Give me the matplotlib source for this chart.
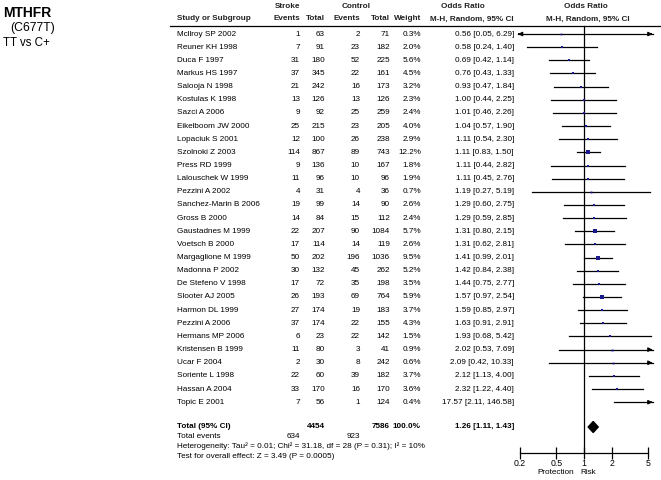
import numpy as np
import matplotlib
matplotlib.use("Agg")
import matplotlib.pyplot as plt
from matplotlib.patches import Polygon

plt.rcParams['font.family'] = ['Liberation Sans', 'DejaVu Sans']

studies = ["Mcllroy SP 2002", "Reuner KH 1998", "Duca F 1997", "Markus HS 1997", "Salooja N 1998",
           "Kostulas K 1998", "Sazci A 2006", "Eikelboom JW 2000", "Lopaciuk S 2001", "Szolnoki Z 2003",
           "Press RD 1999", "Lalouschek W 1999", "Pezzini A 2002", "Sanchez-Marin B 2006", "Gross B 2000",
           "Gaustadnes M 1999", "Voetsch B 2000", "Margaglione M 1999", "Madonna P 2002", "De Stefeno V 1998",
           "Slooter AJ 2005", "Harmon DL 1999", "Pezzini A 2006", "Hermans MP 2006", "Kristensen B 1999",
           "Ucar F 2004", "Soriente L 1998", "Hassan A 2004", "Topic E 2001"]
stroke_events = [1, 7, 31, 37, 21, 13, 9, 25, 12, 114, 9, 11, 4, 19, 14, 22, 17, 50, 30, 17, 26, 27, 37, 6, 11, 2, 22, 33, 7]
stroke_total = [63, 91, 180, 345, 242, 126, 92, 215, 100, 867, 136, 96, 31, 99, 84, 207, 114, 202, 132, 72, 193, 174, 174, 23, 80, 30, 60, 170, 56]
control_events = [2, 23, 52, 22, 16, 13, 25, 23, 26, 89, 10, 10, 4, 14, 15, 90, 14, 196, 45, 35, 69, 19, 22, 22, 3, 8, 39, 16, 1]
control_total = [71, 182, 225, 161, 173, 126, 259, 205, 238, 743, 167, 96, 36, 90, 112, 1084, 119, 1036, 262, 198, 764, 183, 155, 142, 41, 242, 182, 170, 124]
weights = [0.3, 2.0, 5.6, 4.5, 3.2, 2.3, 2.4, 4.0, 2.9, 12.2, 1.8, 1.9, 0.7, 2.6, 2.4, 5.7, 2.6, 9.5, 5.2, 3.5, 5.9, 3.7, 4.3, 1.5, 0.9, 0.6, 3.7, 3.6, 0.4]
odds = [0.56, 0.58, 0.69, 0.76, 0.93, 1.00, 1.01, 1.04, 1.11, 1.11, 1.11, 1.11, 1.19, 1.29, 1.29, 1.31, 1.31, 1.41, 1.42, 1.44, 1.57, 1.59, 1.63, 1.93, 2.02, 2.09, 2.12, 2.32, 17.57]
ci_low = [0.05, 0.24, 0.42, 0.43, 0.47, 0.44, 0.46, 0.57, 0.54, 0.83, 0.44, 0.45, 0.27, 0.60, 0.59, 0.80, 0.62, 0.99, 0.84, 0.75, 0.97, 0.85, 0.91, 0.68, 0.53, 0.42, 1.13, 1.22, 2.11]
ci_high = [6.29, 1.40, 1.14, 1.33, 1.84, 2.25, 2.26, 1.90, 2.30, 1.50, 2.82, 2.76, 5.19, 2.75, 2.85, 2.15, 2.81, 2.01, 2.38, 2.77, 2.54, 2.97, 2.91, 5.42, 7.69, 10.33, 4.00, 4.40, 146.58]
total_stroke = 4454
total_control = 7586
total_events_stroke = 634
total_events_control = 923
total_or, total_lo, total_hi = 1.26, 1.11, 1.43
axis_ticks = [0.2, 0.5, 1, 2, 5]
axis_labels = ["0.2", "0.5", "1", "2", "5"]

W, H = 661, 480
fig = plt.figure(figsize=(W / 100, H / 100), dpi=100)
ax = fig.add_axes([0, 0, 1, 1])
ax.set_xlim(0, W)
ax.set_ylim(H, 0)
ax.axis('off')

fs = 5.9
# column anchors (pixels)
x_study, x_se, x_st, x_ce, x_ct, x_w, x_ci = 177, 300, 325, 360, 390, 421, 514

# Title
ax.text(3, 13, "MTHFR", fontsize=10, fontweight='bold', va='center', ha='left')
ax.text(10, 28, "(C677T)", fontsize=8.8, va='center', ha='left')
ax.text(3, 43, "TT vs C+", fontsize=8.3, va='center', ha='left')

# Headers
hdr = dict(fontsize=fs, va='center', fontweight='bold', color='#222222')
ax.text(288, 6, "Stroke", ha='center', **hdr)
ax.text(356, 6, "Control", ha='center', **hdr)
ax.text(463, 6, "Odds Ratio", ha='center', **hdr)
ax.text(586, 6, "Odds Ratio", ha='center', **hdr)
ax.text(x_study, 19, "Study or Subgroup", ha='left', **hdr)
ax.text(x_se, 19, "Events", ha='right', **hdr)
ax.text(x_st, 19, "Total", ha='right', **hdr)
ax.text(x_ce, 19, "Events", ha='right', **hdr)
ax.text(x_ct, 19, "Total", ha='right', **hdr)
ax.text(x_w, 19, "Weight", ha='right', **hdr)
ax.text(x_ci, 19, "M-H, Random, 95% CI", ha='right', **hdr)
ax.text(588, 19, "M-H, Random, 95% CI", ha='center', **hdr)
ax.plot([170, 661], [25.5, 25.5], color='black', lw=0.9)

y0, dy = 34.0, 13.15
rows_y = [y0 + i * dy for i in range(len(studies))]
for i, y in enumerate(rows_y):
    kw = dict(fontsize=fs, va='center')
    ax.text(x_study, y, studies[i], ha='left', **kw)
    ax.text(x_se, y, str(stroke_events[i]), ha='right', **kw)
    ax.text(x_st, y, str(stroke_total[i]), ha='right', **kw)
    ax.text(x_ce, y, str(control_events[i]), ha='right', **kw)
    ax.text(x_ct, y, str(control_total[i]), ha='right', **kw)
    ax.text(x_w, y, f"{weights[i]:.1f}%", ha='right', **kw)
    ax.text(x_ci, y, f"{odds[i]:.2f} [{ci_low[i]:.2f}, {ci_high[i]:.2f}]", ha='right', **kw)

yt = 427
bkw = dict(va='center', fontsize=fs, fontweight='bold')
ax.text(x_study, yt, "Total (95% CI)", ha='left', **bkw)
ax.text(x_st, yt, str(total_stroke), ha='right', **bkw)
ax.text(x_ct, yt, str(total_control), ha='right', **bkw)
ax.text(x_w, yt, "100.0%", ha='right', **bkw)
ax.text(x_ci, yt, f"{total_or:.2f} [{total_lo:.2f}, {total_hi:.2f}]", ha='right', **bkw)
ax.text(x_study, 437, "Total events", ha='left', va='center', fontsize=fs)
ax.text(x_se, 437, str(total_events_stroke), ha='right', va='center', fontsize=fs)
ax.text(x_ce, 437, str(total_events_control), ha='right', va='center', fontsize=fs)
ax.text(x_study, 446.5, "Heterogeneity: Tau\u00b2 = 0.01; Chi\u00b2 = 31.18, df = 28 (P = 0.31); I\u00b2 = 10%",
        ha='left', va='center', fontsize=fs)
ax.text(x_study, 456, "Test for overall effect: Z = 3.49 (P = 0.0005)", ha='left', va='center', fontsize=fs)

# Forest axes: log scale, pixel mapping px = 584 + 91.6*log10(v)
ppd = 91.6
xmin, xmax = 0.19, 5.6
left_px = 584 + ppd * np.log10(xmin)
right_px = 584 + ppd * np.log10(xmax)
fa = fig.add_axes([left_px / W, 0, (right_px - left_px) / W, 1])
fa.set_xscale('log')
fa.set_xlim(xmin, xmax)
fa.set_ylim(H, 0)
fa.patch.set_alpha(0)
for s in ['top', 'right', 'left']:
    fa.spines[s].set_visible(False)
fa.spines['bottom'].set_position(('data', 453))
fa.spines['bottom'].set_bounds(0.2, 5)
fa.spines['bottom'].set_linewidth(0.9)
fa.set_yticks([])
fa.set_xticks(axis_ticks)
fa.set_xticklabels(axis_labels, fontsize=fs + 0.4)
fa.minorticks_off()
fa.tick_params(axis='x', direction='inout', length=8, width=0.9, pad=0.3)

fa.plot([1, 1], [26, 453], color='black', lw=0.9)

for i, y in enumerate(rows_y):
    lo, hi = ci_low[i], ci_high[i]
    lo_c = max(lo, xmin)
    hi_c = min(hi, xmax)
    fa.plot([lo_c, hi_c], [y, y], color='black', lw=0.9, clip_on=False)
    if hi > 6:
        fa.annotate('', xy=(xmax, y), xytext=(xmax * 0.9, y),
                    arrowprops=dict(arrowstyle='-|>', color='black', lw=0.9, mutation_scale=6))
    if lo < 0.19:
        fa.annotate('', xy=(xmin, y), xytext=(xmin * 1.1, y),
                    arrowprops=dict(arrowstyle='-|>', color='black', lw=0.9, mutation_scale=6))
    ms = 1.2 + 0.17 * weights[i]
    fa.plot([odds[i]], [y], marker='s', color='#1a1a8c', markersize=ms, markeredgewidth=0, zorder=5)

dia = Polygon([[total_lo, yt], [total_or, yt - 5.5], [total_hi, yt], [total_or, yt + 5.5]],
              closed=True, color='black')
fa.add_patch(dia)

ax.text(574, 472, "Protection", ha='right', va='center', fontsize=fs)
ax.text(580, 472, "Risk", ha='left', va='center', fontsize=fs)

fig.savefig("out.png", dpi=100)
